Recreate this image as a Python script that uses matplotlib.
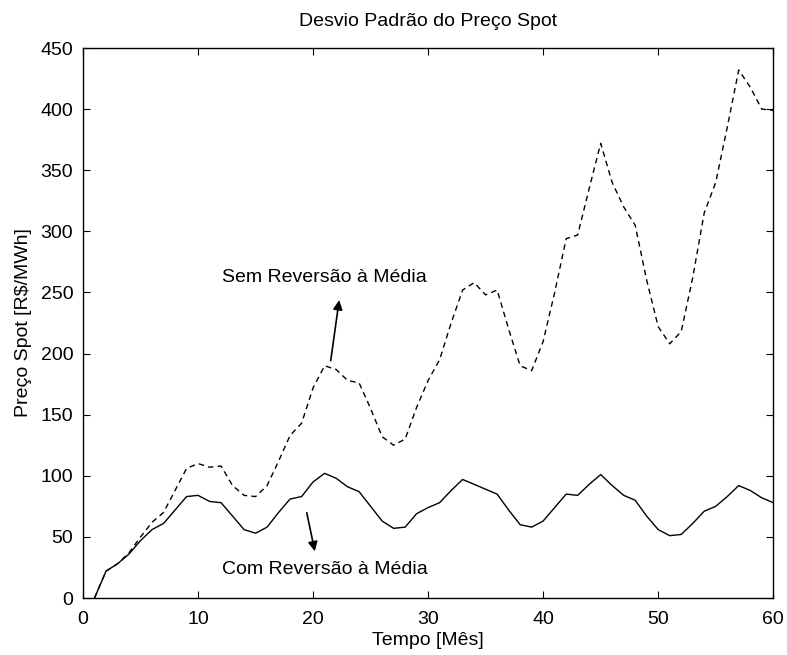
import numpy as np
import matplotlib.pyplot as plt

plt.rcParams['font.family'] = ['Liberation Sans', 'DejaVu Sans']

# Months 1..60
meses = np.arange(1, 61)

# Standard deviation of spot price, without mean reversion (dashed)
sem_reversao = [0, 22, 28, 37, 50, 62, 70, 88, 106, 110,
                107, 108, 92, 84, 83, 92, 112, 133, 143, 172,
                190, 187, 178, 176, 155, 132, 125, 130, 156, 178,
                195, 225, 252, 258, 248, 252, 220, 190, 186, 210,
                250, 294, 297, 335, 372, 340, 320, 305, 260, 222,
                208, 218, 262, 315, 340, 385, 432, 418, 400, 399]

# Standard deviation of spot price, with mean reversion (solid)
com_reversao = [0, 22, 28, 36, 47, 56, 61, 72, 83, 84,
                79, 78, 67, 56, 53, 58, 70, 81, 83, 95,
                102, 98, 91, 87, 75, 63, 57, 58, 69, 74,
                78, 88, 97, 93, 89, 85, 72, 60, 58, 63,
                74, 85, 84, 93, 101, 92, 84, 80, 67, 56,
                51, 52, 61, 71, 75, 83, 92, 88, 82, 78]

x_ticks = np.arange(0, 61, 10)
y_ticks = np.arange(0, 451, 50)

fs = 14

fig = plt.figure(figsize=(7.87, 6.55), dpi=100)
ax = fig.add_axes([0.1055, 0.087, 0.877, 0.8397])

ax.plot(meses, sem_reversao, color='black', linewidth=1, linestyle=(0, (4, 3)))
ax.plot(meses, com_reversao, color='black', linewidth=1)

ax.set_xlim(0, 60)
ax.set_ylim(0, 450)
ax.set_xticks(x_ticks)
ax.set_yticks(y_ticks)
ax.tick_params(which='both', direction='in', top=True, right=True, length=5,
               labelsize=fs, pad=7)
ax.tick_params(axis='x', pad=9)
for s in ax.spines.values():
    s.set_linewidth(1)

ax.set_title('Desvio Padrão do Preço Spot', fontsize=fs, pad=16)
ax.set_xlabel('Tempo [Mês]', fontsize=fs, labelpad=3)
ax.set_ylabel('Preço Spot [R$/MWh]', fontsize=fs, labelpad=6)

ax.annotate('', xy=(22.3, 246), xytext=(21.5, 192),
            arrowprops=dict(arrowstyle='-|>', color='black', lw=1.2, mutation_scale=14))
ax.text(21, 262, 'Sem Reversão à Média', ha='center', va='center', fontsize=fs)

ax.annotate('', xy=(20.2, 36), xytext=(19.4, 72),
            arrowprops=dict(arrowstyle='-|>', color='black', lw=1.2, mutation_scale=14))
ax.text(21, 23, 'Com Reversão à Média', ha='center', va='center', fontsize=fs)

fig.savefig('out.png', dpi=100)
